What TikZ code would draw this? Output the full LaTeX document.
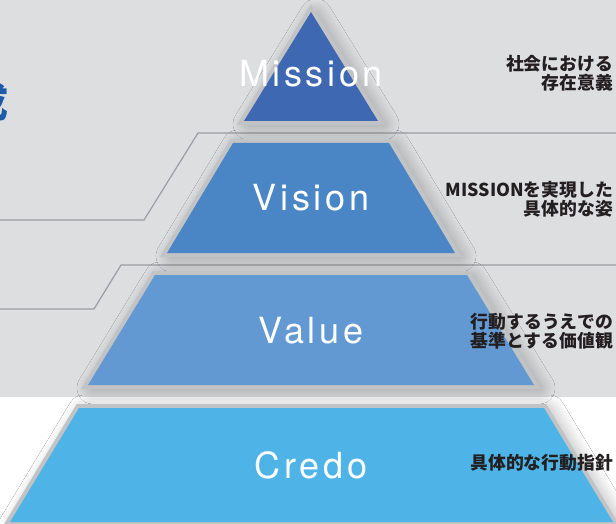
\documentclass[tikz,border=0pt]{standalone}
\usepackage{fontspec}
\setmainfont{TeX Gyre Heros}
\newfontfamily\jp{Noto Sans CJK JP}
\newfontfamily\layerfont{TeX Gyre Heros}[LetterSpace=10]
\usetikzlibrary{shadows.blur}

\definecolor{bggray}{HTML}{DDDEE0}
\definecolor{rimgray}{HTML}{C2C3C5}
\definecolor{linegray}{HTML}{9C9DA0}
\definecolor{notegray}{HTML}{231F20}
\definecolor{headblue}{HTML}{1D5AA8}
\definecolor{missionblue}{HTML}{3E68B2}
\definecolor{visionblue}{HTML}{4A85C5}
\definecolor{valueblue}{HTML}{6399D3}
\definecolor{credoblue}{HTML}{4EB3E6}

\begin{document}
\begin{tikzpicture}[x=1pt,y=-1pt,
    layer/.style={blur shadow={shadow xshift=5pt,shadow yshift=-3pt,
        shadow blur radius=16pt,shadow blur steps=12,shadow opacity=35},
      preaction={draw=rimgray,line width=8pt,line join=miter}},
    title/.style={text=white,font=\layerfont\fontsize{36}{36}\selectfont,
      anchor=base,inner sep=0pt},
    note/.style={text=notegray,font=\jp\bfseries\fontsize{17.8}{19}\selectfont,
      align=right,anchor=east,inner sep=0pt},
    guide/.style={draw=linegray,line width=1.2pt}]
    \useasboundingbox (0,0) rectangle (616,524);

    % backdrop
    \fill[bggray] (0,0) rectangle (616,397);
    \fill[white] (0,397) rectangle (616,524);

    % heading, mostly off the page
    \node[font=\jp\bfseries\fontsize{40}{40}\selectfont,text=headblue,
      anchor=east,inner sep=0pt] (head) at (9,102) {成};

    % guide lines behind the pyramid
    \coordinate (g1a) at (0,220);
    \coordinate (g1b) at (144,220);
    \coordinate (g1c) at (198,133);
    \coordinate (g1d) at (616,133);
    \coordinate (g2a) at (0,309);
    \coordinate (g2b) at (94,309);
    \coordinate (g2c) at (121,265);
    \coordinate (g2d) at (616,265);
    \draw[guide] (g1a) -- (g1b) -- (g1c) -- (g1d);
    \draw[guide] (g2a) -- (g2b) -- (g2c) -- (g2d);

    % corners of the layers
    \coordinate (m1) at (311,12);
    \coordinate (m2) at (378,121);
    \coordinate (m3) at (244,121);
    \coordinate (v1) at (233,143);
    \coordinate (v2) at (389,143);
    \coordinate (v3) at (455,253);
    \coordinate (v4) at (167,253);
    \coordinate (a1) at (155,275);
    \coordinate (a2) at (467,275);
    \coordinate (a3) at (534,385);
    \coordinate (a4) at (88,385);
    \coordinate (c1) at (79,408);
    \coordinate (c2) at (544,408);
    \coordinate (c3) at (613,522);
    \coordinate (c4) at (10,522);

    % pyramid, top down
    \path[layer,fill=missionblue] (m1) -- (m2) -- (m3) -- cycle;
    \path[layer,fill=visionblue] (v1) -- (v2) -- (v3) -- (v4) -- cycle;
    \path[layer,fill=valueblue] (a1) -- (a2) -- (a3) -- (a4) -- cycle;
    \path[layer,fill=credoblue] (c1) -- (c2) -- (c3) -- (c4) -- cycle;

    \node[title] (mission) at (311,87) {Mission};
    \node[title] (vision) at (311,211) {Vision};
    \node[title] (value) at (311,343) {Value};
    \node[title] (credo) at (311,478) {Credo};

    % notes on the right
    \node[note] (mnote) at (613,73.5) {社会における\\存在意義};
    \node[note] (vnote) at (613,199.5) {MISSIONを実現した\\具体的な姿};
    \node[note] (anote) at (613,331.5) {行動するうえでの\\基準とする価値観};
    \node[note] (cnote) at (613,463) {具体的な行動指針};
\end{tikzpicture}
\end{document}
